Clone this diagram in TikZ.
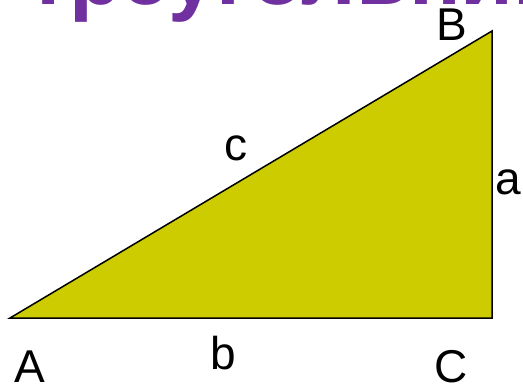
\documentclass[tikz,border=0pt]{standalone}
\usepackage{fontspec}
\setmainfont{Liberation Sans}
\usepackage{tikz}
\usetikzlibrary{positioning, calc}
\definecolor{trifill}{RGB}{204, 204, 0}
\definecolor{titlepurple}{RGB}{112, 48, 160}
\tikzset{
    tri/.style={draw=black, line width=1.5pt, fill=trifill, line join=miter},
    vlabel/.style={font=\fontsize{46}{50}\selectfont, inner sep=0pt},
    slabel/.style={font=\fontsize{46}{50}\selectfont, inner sep=0pt},
    titletext/.style={font=\fontsize{86}{90}\selectfont\bfseries,
                      text=titlepurple, inner sep=0pt, anchor=base west},
}
\begin{document}
\begin{tikzpicture}[x=1pt, y=-1pt]
    \useasboundingbox (0,0) rectangle (523,386);
    \clip (0,0) rectangle (523,386);

    % Title, cut by the top edge
    \node[titletext] (title) at (27,4) {треугольник};

    % Corners
    \coordinate (A) at (10,318);
    \coordinate (C) at (492,318);
    \coordinate (B) at (492,31);

    \draw[tri] (A) -- (B) -- (C) -- cycle;

    % Vertex labels
    \node[vlabel] (labA) at (30,367) {A};
    \node[vlabel] (labB) at (452,25) {B};
    \node[vlabel] (labC) at (451,367) {C};

    % Side labels
    \node[slabel] (laba) at (508,182) {a};
    \node[slabel] (labb) at (223,353) {b};
    \node[slabel] (labc) at (236,148) {c};
\end{tikzpicture}
\end{document}
